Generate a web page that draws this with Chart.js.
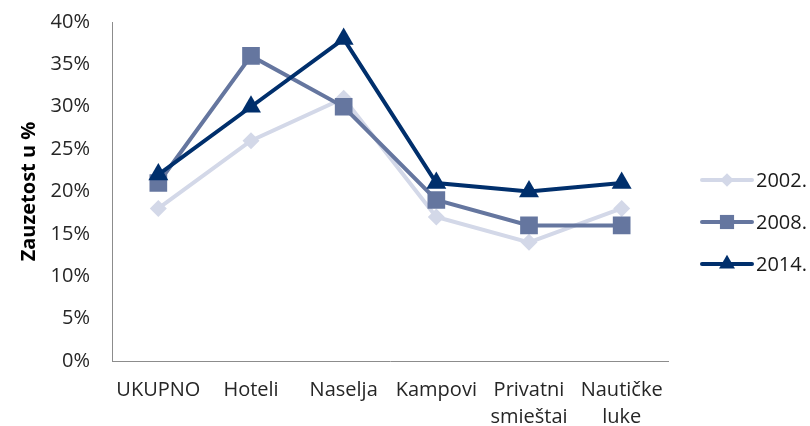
<!DOCTYPE html>
<html>
<head>
<meta charset="utf-8">
<script src="https://cdn.jsdelivr.net/npm/chart.js@4/dist/chart.umd.min.js"></script>
<style>
    html, body { margin: 0; padding: 0; background: #fff; }
    #wrap { width: 810px; height: 426px; }
</style>
</head>
<body>
<div id="wrap"><canvas id="occupancy"></canvas></div>
<script>
// Occupancy by type of accommodation (%)
const categories = ['UKUPNO', 'Hoteli', 'Naselja', 'Kampovi', ['Privatni', 'smieštai'], ['Nautičke', 'luke']];
const occ2002 = [18, 26, 31, 17, 14, 18];
const occ2008 = [21, 36, 30, 19, 16, 16];
const occ2014 = [22, 30, 38, 21, 20, 21];
const yearLabels = ['2002.', '2008.', '2014.'];

const FONT = "'Open Sans', 'Liberation Sans', sans-serif";

/**
 * Legend on the right: short line with the series marker in the middle
 */
const sideLegend = {
    id: 'sideLegend',
    afterDraw(chart) {
        const ctx = chart.ctx;
        const x0 = 702, lineLen = 50, rowY = [180, 222, 264];
        chart.data.datasets.forEach((ds, i) => {
            const y = rowY[i];
            ctx.save();
            ctx.strokeStyle = ds.borderColor;
            ctx.lineWidth = ds.borderWidth;
            ctx.lineCap = 'round';
            ctx.beginPath();
            ctx.moveTo(x0, y);
            ctx.lineTo(x0 + lineLen, y);
            ctx.stroke();
            ctx.fillStyle = ds.pointBackgroundColor;
            ctx.strokeStyle = ds.pointBorderColor;
            Chart.helpers.drawPoint(ctx, {
                pointStyle: ds.pointStyle,
                radius: ds.pointRadius * 0.8,
                rotation: 0,
                borderWidth: 0
            }, x0 + lineLen / 2, y);
            ctx.fillStyle = '#1a1a1a';
            ctx.font = '20px ' + FONT;
            ctx.textBaseline = 'middle';
            ctx.fillText(ds.label, x0 + lineLen + 4, y + 1);
            ctx.restore();
        });
    }
};

function series(label, data, color, style, radius, order) {
    return {
        label: label,
        data: data,
        borderColor: color,
        backgroundColor: color,
        pointBackgroundColor: color,
        pointBorderColor: color,
        borderWidth: 4,
        pointStyle: style,
        pointRadius: radius,
        pointBorderWidth: 0,
        tension: 0,
        order: order
    };
}

new Chart(document.getElementById('occupancy'), {
    type: 'line',
    data: {
        labels: categories,
        datasets: [
            series(yearLabels[0], occ2002, '#D3D8E8', 'rectRot', 8.5, 3),
            series(yearLabels[1], occ2008, '#65769F', 'rect', 12.5, 2),
            series(yearLabels[2], occ2014, '#002F6C', 'triangle', 11.5, 1)
        ]
    },
    options: {
        responsive: true,
        maintainAspectRatio: false,
        animation: false,
        layout: { padding: { left: 0, right: 142, top: 22, bottom: 0 } },
        plugins: {
            legend: { display: false },
            tooltip: { enabled: false }
        },
        scales: {
            x: {
                offset: true,
                grid: { display: false, drawTicks: false },
                border: { color: '#8c8c8c', width: 1 },
                ticks: {
                    color: '#262626',
                    padding: 16,
                    maxRotation: 0,
                    autoSkip: false,
                    font: { family: FONT, size: 20, lineHeight: 1.35 }
                },
                afterFit(scale) { scale.height = 65; }
            },
            y: {
                min: 0,
                max: 40,
                grid: { display: false, drawTicks: false },
                border: { color: '#8c8c8c', width: 1 },
                ticks: {
                    stepSize: 5,
                    color: '#262626',
                    padding: 22,
                    font: { family: FONT, size: 20 },
                    callback: v => v + '%'
                },
                title: {
                    display: true,
                    text: 'Zauzetost u %',
                    color: '#000',
                    padding: { top: 17, bottom: 0 },
                    font: { family: FONT, size: 20, weight: 'bold' }
                },
                afterFit(scale) {
                    scale.width = 112;
                    scale.paddingTop = 0;
                    scale.paddingBottom = 0;
                }
            }
        }
    },
    plugins: [sideLegend]
});
</script>
</body>
</html>
